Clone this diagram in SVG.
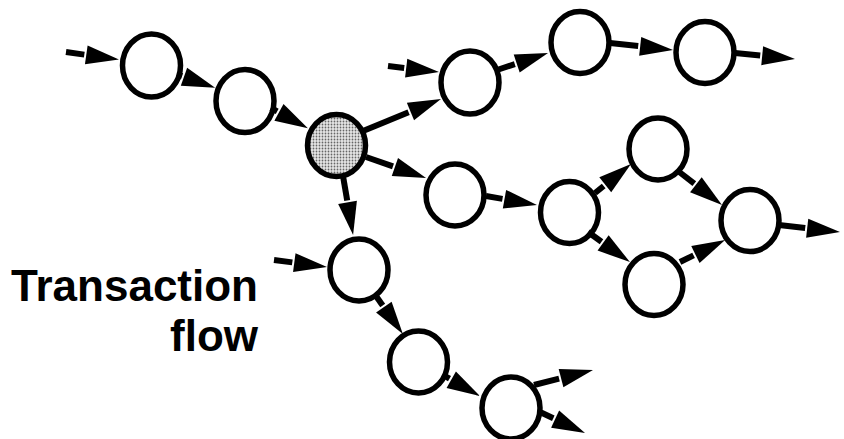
<svg xmlns="http://www.w3.org/2000/svg" width="844" height="439" viewBox="0 0 844 439">
<style>
.node{fill:#fff;stroke:#000;stroke-width:5.5}
.hot{fill:url(#dots)}
.edge{stroke:#000;stroke-width:6;fill:none;marker-end:url(#ah)}
.label{font-family:"Liberation Sans",Arial,sans-serif;font-weight:bold;font-size:44px;fill:#000;text-anchor:end}
</style>
<defs>
<pattern id="dots" width="3" height="3" patternUnits="userSpaceOnUse">
<rect width="3" height="3" fill="#e6e6e6"/>
<circle cx="1.5" cy="1.5" r="0.9" fill="#666"/>
</pattern>
<marker id="ah" markerUnits="userSpaceOnUse" orient="auto" overflow="visible" markerWidth="40" markerHeight="20" refX="0" refY="0">
<path d="M2,-9.5 L35,0 L2,9.5 z" fill="#000"/>
</marker>
</defs>
<rect width="844" height="439" fill="#fff"/>
<g id="nodes">
<g id="nA"><ellipse class="node" cx="151.5" cy="65.5" rx="29" ry="31.5"/></g>
<g id="nB"><ellipse class="node" cx="245" cy="101" rx="29" ry="31.5"/></g>
<g id="nC"><ellipse class="node hot" cx="336.5" cy="145.5" rx="29" ry="31"/></g>
<g id="nD"><ellipse class="node" cx="470" cy="82.5" rx="29" ry="31.5"/></g>
<g id="nE"><ellipse class="node" cx="580" cy="42.5" rx="29" ry="31"/></g>
<g id="nF"><ellipse class="node" cx="705" cy="52.5" rx="29" ry="31"/></g>
<g id="nG"><ellipse class="node" cx="455" cy="195" rx="29" ry="31"/></g>
<g id="nH"><ellipse class="node" cx="569.5" cy="212.5" rx="29" ry="31"/></g>
<g id="nI"><ellipse class="node" cx="658" cy="149" rx="29" ry="31"/></g>
<g id="nJ"><ellipse class="node" cx="750" cy="220.5" rx="29" ry="31"/></g>
<g id="nK"><ellipse class="node" cx="654" cy="284.5" rx="29" ry="31"/></g>
<g id="nL"><ellipse class="node" cx="359" cy="270" rx="29" ry="31"/></g>
<g id="nM"><ellipse class="node" cx="418.5" cy="362" rx="29" ry="31"/></g>
<g id="nN"><ellipse class="node" cx="511" cy="408" rx="29" ry="31"/></g>
</g>
<g id="connectors">
<line class="edge" x1="66" y1="52" x2="84.3" y2="54.6"/>
<line class="edge" x1="179" y1="75" x2="182.1" y2="76.1"/>
<line class="edge" x1="271" y1="108" x2="277.2" y2="111.4"/>
<line class="edge" x1="363" y1="131" x2="408.6" y2="112.3"/>
<line class="edge" x1="388" y1="66" x2="404.2" y2="67.9"/>
<line class="edge" x1="497" y1="70" x2="514.8" y2="64.1"/>
<line class="edge" x1="610" y1="43" x2="638.2" y2="46.1"/>
<line class="edge" x1="735" y1="53" x2="760.2" y2="55.5"/>
<line class="edge" x1="366" y1="157" x2="393" y2="166.4"/>
<line class="edge" x1="486" y1="196" x2="502.5" y2="198.9"/>
<line class="edge" x1="595" y1="193" x2="603.7" y2="186"/>
<line class="edge" x1="588" y1="232" x2="601.5" y2="241.7"/>
<line class="edge" x1="678" y1="171" x2="694.3" y2="183.6"/>
<line class="edge" x1="680" y1="262" x2="693.6" y2="255.4"/>
<line class="edge" x1="779" y1="225" x2="805.2" y2="228"/>
<line class="edge" x1="343" y1="176" x2="347.2" y2="200.5"/>
<line class="edge" x1="274" y1="260" x2="292.3" y2="262.4"/>
<line class="edge" x1="376" y1="296" x2="382.7" y2="305.5"/>
<line class="edge" x1="443" y1="375" x2="449.5" y2="378.7"/>
<line class="edge" x1="534" y1="385" x2="559.1" y2="378.6"/>
<line class="edge" x1="540" y1="412" x2="553.3" y2="418.2"/>
</g>
<g id="label">
<text class="label" x="258" y="301">Transaction</text>
<text class="label" x="258" y="351">flow</text>
</g>
</svg>
